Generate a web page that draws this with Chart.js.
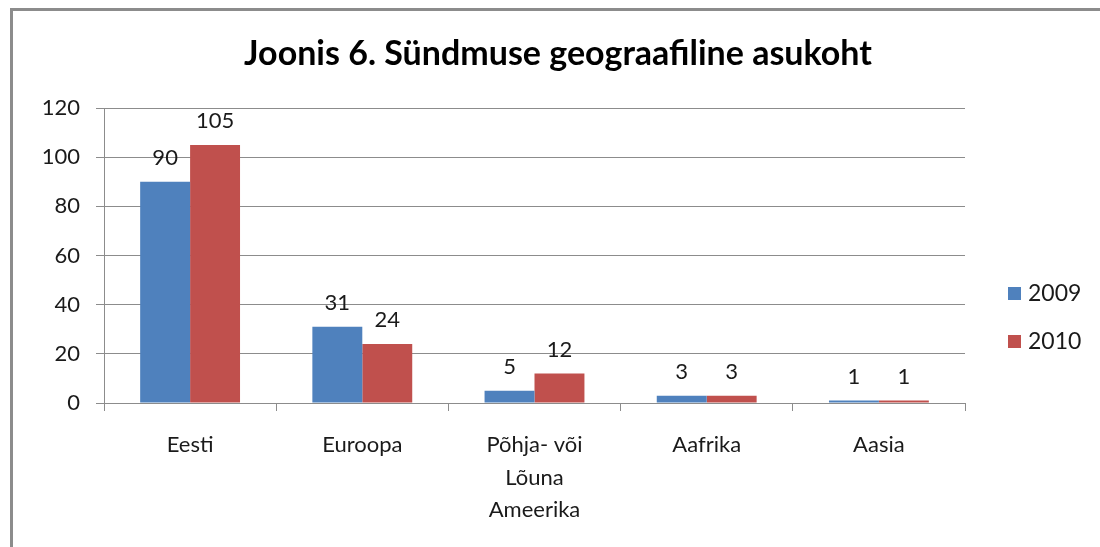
<!DOCTYPE html>
<html>
<head>
<meta charset="utf-8">
<script src="https://cdn.jsdelivr.net/npm/chart.js@4.4.0/dist/chart.umd.min.js"></script>
<style>
  html, body { margin: 0; padding: 0; background: #fff; }
  #wrap { position: relative; width: 1100px; height: 547px; overflow: hidden; }
  #frame { position: absolute; left: 10px; top: 8px; width: 1200px; height: 700px;
           border-left: 3px solid #8c8c8c; border-top: 3px solid #8c8c8c; }
  canvas { position: absolute; left: 0; top: 0; }
</style>
</head>
<body>
<div id="wrap">
  <div id="frame"></div>
  <canvas id="chart" width="1100" height="547"></canvas>
</div>
<script>
const titleText = 'Joonis 6. Sündmuse geograafiline asukoht';
const categories = ['Eesti', 'Euroopa', ['Põhja- või', 'Lõuna', 'Ameerika'], 'Aafrika', 'Aasia'];
const seriesNames = ['2009', '2010'];
const values2009 = [90, 31, 5, 3, 1];
const values2010 = [105, 24, 12, 3, 1];
const yTicks = { min: 0, max: 120, step: 20 };

const FONT = 'Lato, "Open Sans", sans-serif';
const TEXT = '#1a1a1a';

// value labels above bars
const valueLabels = {
  id: 'valueLabels',
  afterDatasetsDraw(chart) {
    const ctx = chart.ctx;
    ctx.save();
    ctx.font = '22px ' + FONT;
    ctx.fillStyle = TEXT;
    ctx.textAlign = 'center';
    ctx.textBaseline = 'alphabetic';
    chart.data.datasets.forEach((ds, i) => {
      chart.getDatasetMeta(i).data.forEach((bar, j) => {
        ctx.fillText(String(ds.data[j]), bar.x, bar.y - 17);
      });
    });
    ctx.restore();
  }
};

// title + legend drawn like the office chart
const decor = {
  id: 'decor',
  afterDraw(chart) {
    const ctx = chart.ctx;
    ctx.save();
    ctx.fillStyle = '#000';
    ctx.font = 'bold 34px ' + FONT;
    ctx.textAlign = 'center';
    ctx.textBaseline = 'middle';
    ctx.fillText(titleText, 558, 54);

    ctx.font = '23px ' + FONT;
    ctx.textAlign = 'left';
    chart.data.datasets.forEach((ds, i) => {
      const y = 293 + i * 48;
      ctx.fillStyle = ds.backgroundColor;
      ctx.fillRect(1008, y - 6, 13, 13);
      ctx.fillStyle = TEXT;
      ctx.fillText(ds.label, 1028, y + 1);
    });
    ctx.restore();
  }
};

new Chart(document.getElementById('chart').getContext('2d'), {
  type: 'bar',
  data: {
    labels: categories,
    datasets: [
      { label: seriesNames[0], data: values2009, backgroundColor: '#4f81bd' },
      { label: seriesNames[1], data: values2010, backgroundColor: '#c0504d' }
    ]
  },
  options: {
    responsive: false,
    animation: false,
    devicePixelRatio: 1,
    layout: { padding: { left: 10, right: 135, top: 108, bottom: 4 } },
    categoryPercentage: 0.58,
    barPercentage: 1.0,
    plugins: { legend: { display: false }, title: { display: false }, tooltip: { enabled: false } },
    scales: {
      x: {
        grid: { drawOnChartArea: false, drawTicks: true, tickLength: 8, color: '#8c8c8c', offset: true },
        border: { color: '#8c8c8c', width: 1 },
        ticks: { color: TEXT, font: { family: FONT, size: 22, lineHeight: 1.48 }, padding: 18, maxRotation: 0, autoSkip: false },
        afterFit(s) { s.height = 140; }
      },
      y: {
        min: yTicks.min, max: yTicks.max,
        grid: { color: '#8c8c8c', tickLength: 8, lineWidth: 1 },
        border: { color: '#8c8c8c', width: 1 },
        ticks: { stepSize: yTicks.step, color: TEXT, font: { family: FONT, size: 22 }, padding: 16 },
        afterFit(s) { s.width = 94; }
      }
    }
  },
  plugins: [valueLabels, decor]
});
</script>
</body>
</html>
